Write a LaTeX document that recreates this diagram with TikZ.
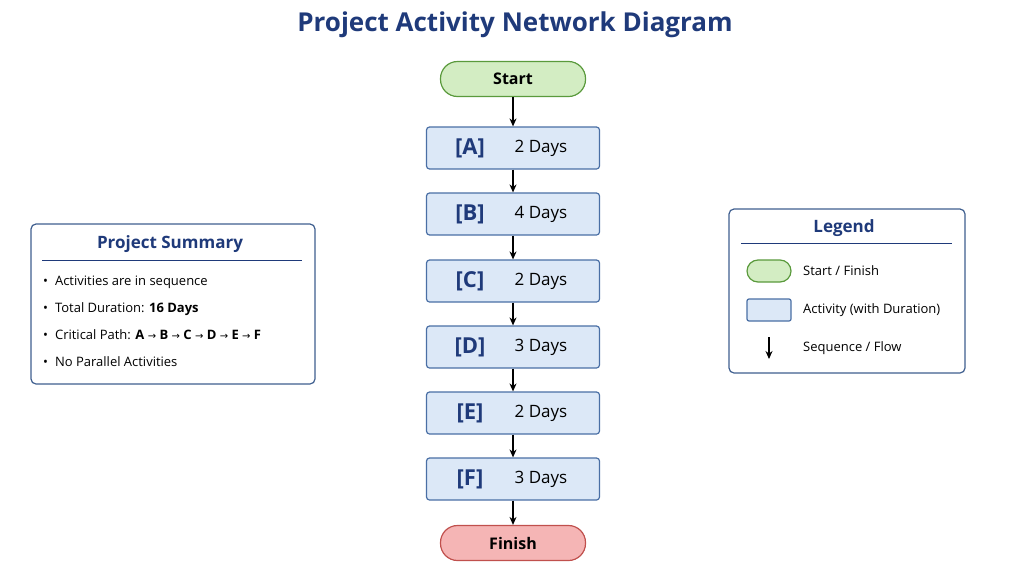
\documentclass[tikz,border=0pt]{standalone}
\usepackage{fontspec}
\setmainfont{Open Sans}
\newfontfamily\symfont{DejaVu Sans}
\usetikzlibrary{arrows.meta}
\definecolor{navy}{HTML}{1F3A7A}
\definecolor{actfill}{HTML}{DCE8F7}
\definecolor{actdraw}{HTML}{4A6FA5}
\definecolor{stfill}{HTML}{D3EDC3}
\definecolor{stdraw}{HTML}{5A9A3C}
\definecolor{fnfill}{HTML}{F5B5B5}
\definecolor{fndraw}{HTML}{C0504D}
\definecolor{panel}{HTML}{3F5F8F}
\newcommand{\rar}{{\symfont\fontsize{10}{12}\selectfont →}}
\begin{document}
\begin{tikzpicture}[x=1pt,y=-1pt,
 act/.style={draw=actdraw,fill=actfill,line width=1.2pt,rounded corners=3pt,minimum width=173pt,minimum height=42pt},
 term/.style={draw=#1draw,fill=#1fill,line width=1.2pt,rounded corners=17pt,minimum width=145pt,minimum height=35pt,font=\bfseries\fontsize{16}{19}\selectfont},
 panelbox/.style={draw=panel,line width=1.2pt,rounded corners=5pt,fill=white},
 flow/.style={-{Stealth[length=8pt,width=7pt]},line width=1.1pt},
 lab/.style={font=\bfseries\fontsize{22}{26}\selectfont,text=navy},
 days/.style={font=\fontsize{17}{20}\selectfont},
 txt/.style={font=\fontsize{13}{15}\selectfont,anchor=west}]
\useasboundingbox (0,0) rectangle (1024,576);
\node[font=\bfseries\fontsize{26}{30}\selectfont,text=navy] (title) at (515,25) {Project Activity Network Diagram};
\node[term=st] (start) at (513,79) {Start};
\foreach \n/\y/\d in {A/148/2,B/214/4,C/281/2,D/347/3,E/413/2,F/479/3}{
 \node[act] (\n) at (513,\y) {};
 \node[lab] (\n l) at (470,\y) {[\n]};
 \node[days] (\n d) at (541,\y) {\d\ Days};
}
\node[term=fn] (finish) at (513,543) {Finish};
\draw[flow] (start) -- (A);
\draw[flow] (A) -- (B);
\draw[flow] (B) -- (C);
\draw[flow] (C) -- (D);
\draw[flow] (D) -- (E);
\draw[flow] (E) -- (F);
\draw[flow] (F) -- (finish);
% summary
\node[panelbox,minimum width=284pt,minimum height=160pt] (sum) at (173,304) {};
\node[font=\bfseries\fontsize{17}{20}\selectfont,text=navy] (sumt) at (170,244) {Project Summary};
\draw[navy,line width=1pt] (42,260) -- (302,260);
\foreach \y/\t [count=\i] in {282/Activities are in sequence,309/{Total Duration: \textbf{16 Days}},335/{Critical Path: \textbf{A} \rar{} \textbf{B} \rar{} \textbf{C} \rar{} \textbf{D} \rar{} \textbf{E} \rar{} \textbf{F}},362/No Parallel Activities}{
 \node[txt,inner sep=0pt] (s\i) at (43,\y) {•\hspace{7pt}\t};
}
% legend
\node[panelbox,minimum width=236pt,minimum height=164pt] (leg) at (847,291) {};
\node[font=\bfseries\fontsize{17}{20}\selectfont,text=navy] (legt) at (844,228) {Legend};
\draw[navy,line width=1pt] (741,243) -- (952,243);
\node[draw=stdraw,fill=stfill,line width=1.2pt,rounded corners=11pt,minimum width=44pt,minimum height=22pt] (l1) at (769,271) {};
\node[draw=actdraw,fill=actfill,line width=1.2pt,rounded corners=2pt,minimum width=44pt,minimum height=22pt] (l2) at (769,310) {};
\coordinate (a1) at (769,337);
\coordinate (a2) at (769,359);
\draw[flow] (a1) -- (a2);
\node[txt,inner sep=0pt] (t1) at (803,271) {Start / Finish};
\node[txt,inner sep=0pt] (t2) at (803,310) {Activity (with Duration)};
\node[txt,inner sep=0pt] (t3) at (803,348) {Sequence / Flow};
\end{tikzpicture}
\end{document}
